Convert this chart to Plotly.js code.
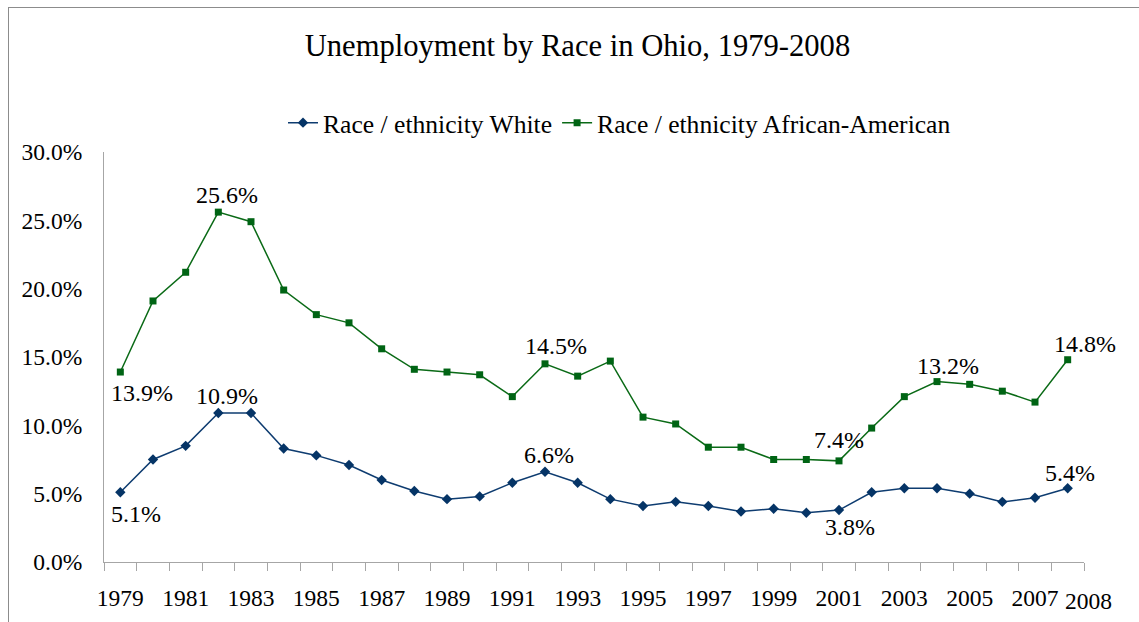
<!DOCTYPE html>
<html>
<head>
<meta charset="utf-8">
<script src="https://cdn.plot.ly/plotly-3.0.1.min.js"></script>
<style>
  html, body { margin: 0; padding: 0; background: #fff; }
  #chart { position: absolute; left: 0; top: 0; width: 1139px; height: 622px; }
  #frame { position: absolute; left: 8px; top: 7px; width: 1200px; height: 700px;
           border-left: 1px solid #8c8c8c; border-top: 1px solid #8c8c8c; pointer-events: none; }
</style>
</head>
<body>
<div id="chart"></div>
<div id="frame"></div>
<script>
// ---- data ----
const years = [1979, 1980, 1981, 1982, 1983, 1984, 1985, 1986, 1987, 1988,
               1989, 1990, 1991, 1992, 1993, 1994, 1995, 1996, 1997, 1998,
               1999, 2000, 2001, 2002, 2003, 2004, 2005, 2006, 2007, 2008];
const white = [5.1, 7.5, 8.5, 10.9, 10.9, 8.3, 7.8, 7.1, 6.0, 5.2,
               4.6, 4.8, 5.8, 6.6, 5.8, 4.6, 4.1, 4.4, 4.1, 3.7,
               3.9, 3.6, 3.8, 5.1, 5.4, 5.4, 5.0, 4.4, 4.7, 5.4];
const africanAmerican = [13.9, 19.1, 21.2, 25.6, 24.9, 19.9, 18.1, 17.5, 15.6, 14.1,
                         13.9, 13.7, 12.1, 14.5, 13.6, 14.7, 10.6, 10.1, 8.4, 8.4,
                         7.5, 7.5, 7.4, 9.8, 12.1, 13.2, 13.0, 12.5, 11.7, 14.8];
const seriesNames = ["Race / ethnicity White", "Race / ethnicity African-American"];
const xTickYears = [1979, 1981, 1983, 1985, 1987, 1989, 1991, 1993, 1995, 1997,
                    1999, 2001, 2003, 2005, 2007];
const lastYearLabel = "2008";
const chartTitle = "Unemployment by Race in Ohio, 1979-2008";
// years that carry a data label, per series
const whiteLabelYears = [1979, 1982, 1992, 2001, 2008];
const aaLabelYears = [1979, 1982, 1992, 2001, 2004, 2008];

// ---- styling ----
const FONT = "Liberation Serif";
const BLUE = "#0E3C70";
const GREEN = "#0A6A16";
// label offsets in px (dx right, dy up) keyed by year
const whiteOffsets = {1979: [16, -22], 1982: [9, 17], 1992: [4, 17], 2001: [11, -17], 2008: [2, 15]};
const aaOffsets = {1979: [22, -21], 1982: [9, 17], 1992: [11, 18], 2001: [0, 21], 2004: [11, 16], 2008: [17, 16]};

function labelAnns(vals, labelYears, offsets) {
  return labelYears.map(yr => {
    const i = years.indexOf(yr);
    const o = offsets[yr];
    return {
      x: years[i], y: vals[i], xref: 'x', yref: 'y',
      text: vals[i].toFixed(1) + '%', showarrow: false,
      xanchor: 'center', yanchor: 'middle',
      xshift: o[0], yshift: o[1],
      font: {family: FONT, size: 24, color: '#000'}
    };
  });
}

const traces = [
  {
    x: years, y: white, name: seriesNames[0], type: 'scatter', mode: 'lines+markers',
    line: {color: BLUE, width: 1.5},
    marker: {symbol: 'diamond', size: 8, color: '#053466'},
    hoverinfo: 'x+y'
  },
  {
    x: years, y: africanAmerican, name: seriesNames[1], type: 'scatter', mode: 'lines+markers',
    line: {color: GREEN, width: 1.5},
    marker: {symbol: 'square', size: 7, color: '#006414'},
    hoverinfo: 'x+y'
  }
];

const annotations = labelAnns(white, whiteLabelYears, whiteOffsets)
  .concat(labelAnns(africanAmerican, aaLabelYears, aaOffsets))
  .concat([{
    x: years[years.length - 1], y: 0, xref: 'x', yref: 'y',
    text: lastYearLabel, showarrow: false, xanchor: 'center', yanchor: 'middle',
    xshift: 21, yshift: -39,
    font: {family: FONT, size: 23.5, color: '#000'}
  }]);

const layout = {
  width: 1139, height: 622,
  margin: {l: 104, r: 55, t: 152, b: 60, pad: 0},
  paper_bgcolor: 'rgba(0,0,0,0)', plot_bgcolor: 'rgba(0,0,0,0)',
  font: {family: FONT, color: '#000'},
  title: {
    text: chartTitle, font: {family: FONT, size: 30.6, color: '#000'},
    xref: 'container', x: 0.507, xanchor: 'center',
    yref: 'container', y: 1 - 45 / 622, yanchor: 'middle'
  },
  showlegend: true,
  legend: {
    orientation: 'h', xref: 'paper', yref: 'container',
    x: (283 - 104) / 980, xanchor: 'left', y: 1 - 123 / 622, yanchor: 'middle',
    font: {family: FONT, size: 25.6, color: '#000'},
    bgcolor: 'rgba(0,0,0,0)', itemwidth: 30, tracegroupgap: 0
  },
  xaxis: {
    type: 'linear', range: [1978.5, 2008.5], fixedrange: true,
    tickmode: 'array', tickvals: xTickYears, ticktext: xTickYears.map(String),
    ticks: '', showgrid: false, zeroline: false,
    showline: true, linecolor: '#a6a6a6', linewidth: 1,
    tickfont: {family: FONT, size: 23.5, color: '#000'},
    ticklabelstandoff: 15,
    minor: {tickmode: 'linear', tick0: 1978.5, dtick: 1, ticks: 'outside', ticklen: 8,
            tickcolor: '#a6a6a6', tickwidth: 1, showgrid: false}
  },
  yaxis: {
    range: [0, 30], dtick: 5, tick0: 0, fixedrange: true,
    tickformat: '.1f', ticksuffix: '%',
    ticks: '', showgrid: false, zeroline: false,
    showline: true, linecolor: '#a6a6a6', linewidth: 1,
    tickfont: {family: FONT, size: 23.5, color: '#000'},
    ticklabelstandoff: 16
  },
  annotations: annotations
};

Plotly.newPlot('chart', traces, layout, {displayModeBar: false, staticPlot: true});
</script>
</body>
</html>
